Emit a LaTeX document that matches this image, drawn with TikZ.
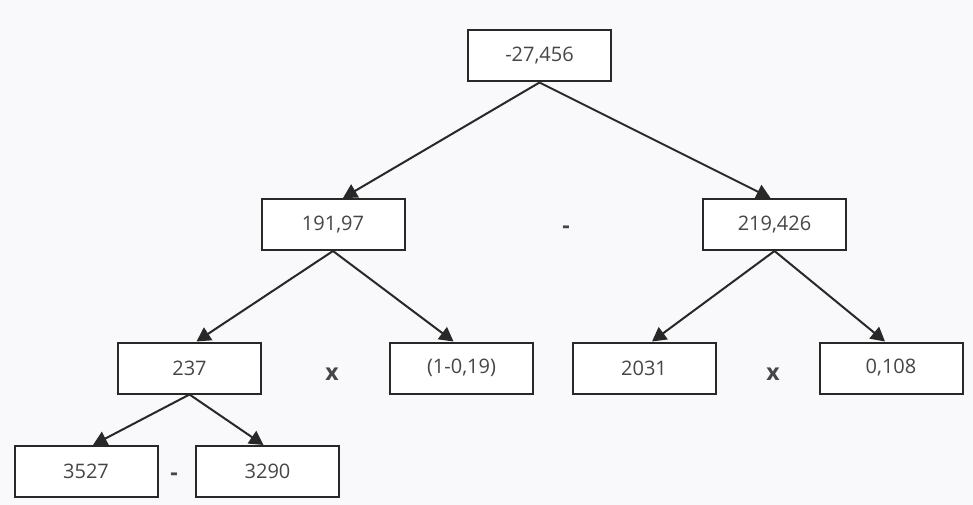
\documentclass[tikz,border=0pt]{standalone}
\usepackage{fontspec}
\setmainfont{Open Sans}
\usetikzlibrary{arrows.meta}
\definecolor{bgcol}{RGB}{249,249,251}
\definecolor{edgecol}{RGB}{40,40,40}
\definecolor{txtcol}{RGB}{70,70,70}
\tikzset{
  valbox/.style={draw=edgecol, line width=2pt, fill=white, minimum width=143pt,
    minimum height=51pt, inner sep=0pt, text=txtcol, font=\fontsize{20}{22}\selectfont},
  opsign/.style={text=txtcol, font=\fontsize{23}{25}\selectfont\bfseries, inner sep=0pt},
  link/.style={draw=edgecol, line width=2pt, -{Triangle[length=14pt,width=15pt]}}
}
\begin{document}
\begin{tikzpicture}[x=1pt,y=-1pt]
  \fill[bgcol] (0,0) rectangle (973,505);
  \useasboundingbox (0,0) rectangle (973,505);

  % value boxes
  \node[valbox] (root) at (539.5,56) {-27,456};
  \node[valbox] (l1) at (333,224.5) {191,97};
  \node[valbox] (r1) at (774.5,224.5) {219,426};
  \node[valbox] (ll) at (189.5,368) {237};
  \node[valbox] (lr) at (461.5,368) {(1-0,19)};
  \node[valbox] (rl) at (644,368) {2031};
  \node[valbox] (rr) at (891,368) {0,108};
  \node[valbox] (a) at (86,471.5) {3527};
  \node[valbox] (b) at (267.5,471.5) {3290};

  % operators between siblings
  \node[opsign] (m1) at (566,230) {-};
  \node[opsign] (x1) at (332,374) {x};
  \node[opsign] (x2) at (773,374) {x};
  \node[opsign] (m2) at (174,477) {-};

  % connectors
  \draw[link] (root.south) -- ([xshift=10pt]l1.north);
  \draw[link] (root.south) -- ([xshift=-4pt]r1.north);
  \draw[link] (l1.south) -- ([xshift=7pt]ll.north);
  \draw[link] (l1.south) -- ([xshift=-8pt]lr.north);
  \draw[link] (r1.south) -- ([xshift=8pt]rl.north);
  \draw[link] (r1.south) -- ([xshift=-6pt]rr.north);
  \draw[link] (ll.south) -- ([xshift=7pt]a.north);
  \draw[link] (ll.south) -- ([xshift=-4pt]b.north);
\end{tikzpicture}
\end{document}
